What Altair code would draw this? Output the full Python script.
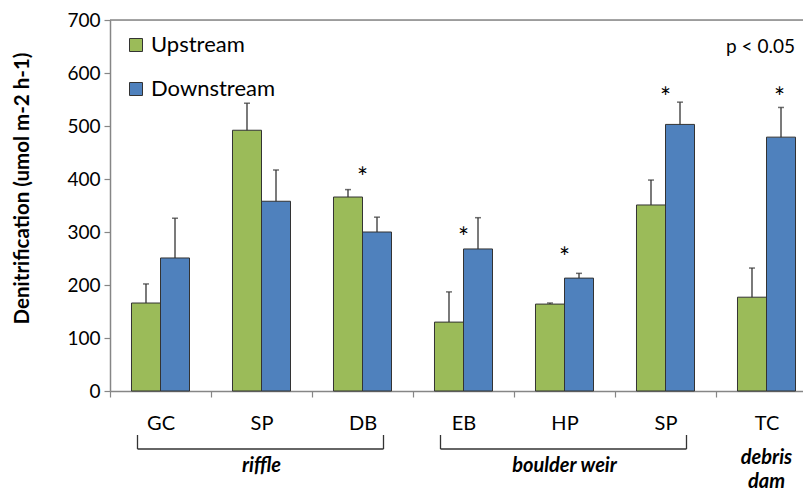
import altair as alt
import pandas as pd

# ---------------- data ----------------
cats = ["GC", "SP1", "DB", "EB", "HP", "SP2", "TC"]
series = ["Upstream", "Downstream"]
colors = ["#9BBB59", "#4F81BD"]
upstream = [166, 492, 366, 130, 164, 351, 177]
upstream_err = [36, 51, 14, 57, 2, 47, 55]
downstream = [251, 358, 300, 268, 213, 503, 479]
downstream_err = [75, 59, 28, 59, 9, 42, 56]

star_cats = ["DB", "EB", "HP", "SP2"]
star_vals = [413, 300, 262, 564]
star_bar_cats = ["TC"]
star_bar_vals = [564]

group_names = ["riffle", "boulder weir"]
group_start = ["GC", "EB"]
group_end = ["DB", "SP2"]
group_anchor = ["SP1", "HP"]
single_group_name = ["debris\ndam"]
single_group_anchor = ["TC"]

y_ticks = [0, 100, 200, 300, 400, 500, 600, 700]
y_title = "Denitrification (umol m-2 h-1)"

FONT = "Lato"
W, H = 693, 371
AXIS_GRAY = "#868686"
DARK = "#333333"

rows = []
for i, c in enumerate(cats):
    rows.append(dict(cat=c, series="Upstream", value=upstream[i], top=upstream[i] + upstream_err[i]))
    rows.append(dict(cat=c, series="Downstream", value=downstream[i], top=downstream[i] + downstream_err[i]))
df = pd.DataFrame(rows)
stars = pd.DataFrame(dict(cat=star_cats, value=star_vals, t=["*"] * len(star_cats)))
stars_bar = pd.DataFrame(dict(cat=star_bar_cats, value=star_bar_vals, t=["*"] * len(star_bar_cats)))
groups = pd.DataFrame(dict(name=group_names, cat=group_start, end=group_end, anchor=group_anchor))
single = pd.DataFrame(dict(name=single_group_name, cat=single_group_anchor))
ptext = pd.DataFrame(dict(t=["p < 0.05"]))

xscale = alt.Scale(domain=cats, paddingInner=0, paddingOuter=0, range=[0, 707])
yscale = alt.Scale(domain=[0, 700], nice=False)
xoff = alt.XOffset("series:N", sort=series,
                   scale=alt.Scale(domain=series, paddingInner=0, paddingOuter=0.741))

x_axis = alt.Axis(labelExpr="substring(datum.label, 0, 2)", tickBand="extent",
                  labelAngle=0, labelFontSize=20, labelFont=FONT, labelColor="#000",
                  labelPadding=16, tickSize=6, domainColor=AXIS_GRAY,
                  tickColor=AXIS_GRAY, domainWidth=1.5, tickWidth=1.2)
y_axis = alt.Axis(values=y_ticks, grid=False, tickSize=6, labelPadding=4,
                  labelFontSize=19, labelFont=FONT, labelColor="#000",
                  domainColor=AXIS_GRAY, tickColor=AXIS_GRAY, domainWidth=1.5, tickWidth=1.2,
                  titleFont=FONT, titleFontSize=20.5, titleFontWeight="bold", titleColor="#000",
                  titleAngle=-90, titleX=-88, titleY=168, titleAlign="center",
                  titleBaseline="middle")


def X(field):
    return alt.X(field, type="nominal", scale=xscale, axis=x_axis, title=None)


def Y(field):
    return alt.Y(field, type="quantitative", scale=yscale, axis=y_axis, title=y_title)


bars = alt.Chart(df).mark_bar(stroke=DARK, strokeWidth=1).encode(
    x=X("cat"),
    xOffset=xoff,
    y=Y("value"),
    color=alt.Color("series:N", scale=alt.Scale(domain=series, range=colors),
                    legend=alt.Legend(orient="none", legendX=15, legendY=14, title=None,
                                      symbolType="square", symbolSize=169,
                                      symbolStrokeColor=DARK, symbolStrokeWidth=1,
                                      labelFont=FONT, labelFontSize=22, labelColor="#000",
                                      labelOffset=4, rowPadding=22, padding=0)),
)

err = alt.Chart(df).mark_rule(color=DARK, strokeWidth=1.3).encode(
    x=X("cat"),
    xOffset=xoff,
    y=Y("value"),
    y2="top:Q",
)
caps = alt.Chart(df).mark_tick(color=DARK, size=6, thickness=1.5).encode(
    x=X("cat"),
    xOffset=xoff,
    y=Y("top"),
)

star_layer = alt.Chart(stars).mark_text(fontSize=26, font=FONT, baseline="middle", dy=7, color="#000").encode(
    x=X("cat"),
    y=Y("value"),
    text="t:N",
)
star_bar_layer = alt.Chart(stars_bar).mark_text(fontSize=26, font=FONT, baseline="middle", dy=7,
                                                 dx=13, color="#000").encode(
    x=X("cat"),
    y=Y("value"),
    text="t:N",
)

top_border = alt.Chart(ptext).mark_rule(color=AXIS_GRAY, strokeWidth=1.5).encode(
    x=alt.value(0), x2=alt.value(707), y=alt.value(0))

p_layer = alt.Chart(ptext).mark_text(align="right", baseline="middle", fontSize=19, font=FONT,
                                     color="#000").encode(
    x=alt.value(685), y=alt.value(27), text="t:N")

br_h = alt.Chart(groups).mark_rule(color=DARK, strokeWidth=1.3, xOffset=-23, x2Offset=21).encode(
    x=X("cat"), x2="end:N", y=alt.value(429))
br_l = alt.Chart(groups).mark_rule(color=DARK, strokeWidth=1.3, xOffset=-23).encode(
    x=X("cat"), y=alt.value(415), y2=alt.value(429))
br_r = alt.Chart(groups).mark_rule(color=DARK, strokeWidth=1.3, xOffset=21).encode(
    x=X("end"), y=alt.value(415), y2=alt.value(429))

group_text = alt.Chart(groups).mark_text(fontSize=20, font=FONT, fontStyle="italic",
                                         fontWeight="bold", baseline="middle", color="#000").encode(
    x=X("anchor"), y=alt.value(446), text="name:N")
single_text = alt.Chart(single).mark_text(fontSize=20, font=FONT, fontStyle="italic",
                                          fontWeight="bold", baseline="middle", lineBreak="\n",
                                          lineHeight=24, color="#000").encode(
    x=X("cat"), y=alt.value(438), text="name:N")

chart = alt.layer(
    bars, top_border, err, caps, star_layer, star_bar_layer, p_layer,
    br_h, br_l, br_r, group_text, single_text,
).properties(
    width=W, height=H,
    padding={"left": 102, "top": 12, "right": 0, "bottom": 112},
    autosize=alt.AutoSizeParams(type="none"),
).configure_view(stroke=None).configure(background="white")

chart.save("out.html", embed_options={"renderer": "svg", "actions": False})
